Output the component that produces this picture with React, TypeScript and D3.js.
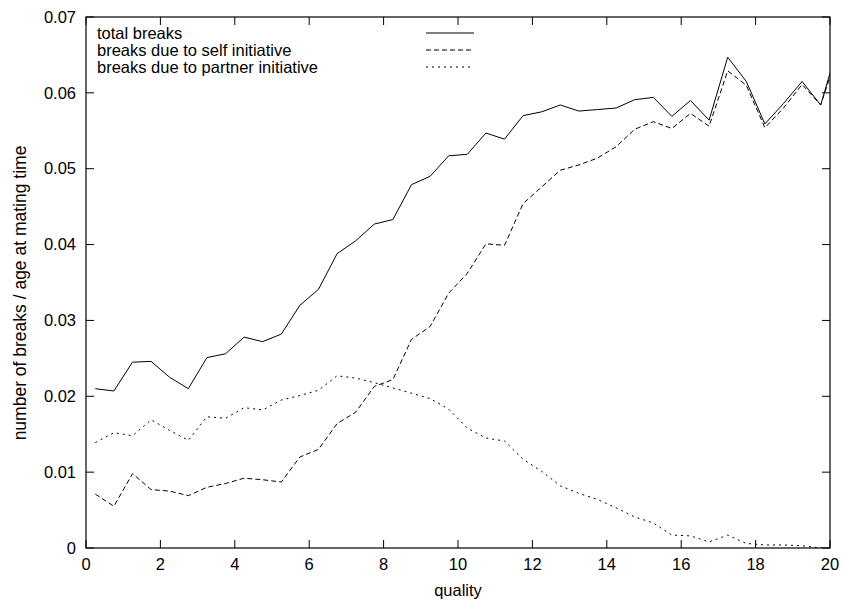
import React from "react";
import * as d3 from "d3";

const quality = [
  0.25, 0.75, 1.25, 1.75, 2.25, 2.75, 3.25, 3.75, 4.25, 4.75, 5.25, 5.75, 6.25, 6.75,
  7.25, 7.75, 8.25, 8.75, 9.25, 9.75, 10.25, 10.75, 11.25, 11.75, 12.25, 12.75, 13.25,
  13.75, 14.25, 14.75, 15.25, 15.75, 16.25, 16.75, 17.25, 17.75, 18.25, 18.75, 19.25, 19.75,
  20.25,
];

const totalBreaks = [
  0.021, 0.0207, 0.0245, 0.0246, 0.0225, 0.021, 0.0251, 0.0256, 0.0278, 0.0272, 0.0282, 0.032, 0.0341, 0.0388,
  0.0405, 0.0427, 0.0433, 0.0479, 0.049, 0.0517, 0.0519, 0.0547, 0.0539, 0.057, 0.0575, 0.0584, 0.0576,
  0.0578, 0.058, 0.0591, 0.0594, 0.0569, 0.059, 0.0564, 0.0647, 0.0615, 0.0559, 0.0586, 0.0615, 0.0584,
  0.0668,
];

const selfBreaks = [
  0.0071, 0.0055, 0.0098, 0.0077, 0.0075, 0.0069, 0.008, 0.0085, 0.0092, 0.009, 0.0087, 0.012, 0.013, 0.0164,
  0.0179, 0.0213, 0.0222, 0.0275, 0.0292, 0.0336, 0.0362, 0.0401, 0.0399, 0.0454, 0.0476, 0.0498, 0.0505,
  0.0514, 0.0529, 0.0552, 0.0562, 0.0553, 0.0573, 0.0556, 0.0629, 0.061, 0.0554, 0.058, 0.0611, 0.0584,
  0.0658,
];

const partnerBreaks = [
  0.0139, 0.0152, 0.0148, 0.0169, 0.0155, 0.0142, 0.0173, 0.0171, 0.0185, 0.0182, 0.0195, 0.0201, 0.0208, 0.0227,
  0.0224, 0.0218, 0.0211, 0.0204, 0.0197, 0.0183, 0.0158, 0.0145, 0.0141, 0.0117, 0.0101, 0.0082, 0.0072,
  0.0064, 0.0053, 0.0041, 0.0033, 0.0017, 0.0016, 0.0008, 0.0017, 0.0006, 0.0004, 0.0004, 0.0003, 0.0,
  0.0,
];

const xTicks = [0, 2, 4, 6, 8, 10, 12, 14, 16, 18, 20];
const yTicks = [0, 0.01, 0.02, 0.03, 0.04, 0.05, 0.06, 0.07];
const yTickLabels = ["0", "0.01", "0.02", "0.03", "0.04", "0.05", "0.06", "0.07"];

const seriesNames = ["total breaks", "breaks due to self initiative", "breaks due to partner initiative"];
const seriesValues = [totalBreaks, selfBreaks, partnerBreaks];
const seriesDash = [null, "5,3", "2,4"];

const W = 843;
const H = 601;
const L = 86;
const R = 830;
const T = 17;
const B = 548;
const TICK = 8;
const FONT = "'Liberation Sans', Arial, Helvetica, sans-serif";
const FS = 16.5;

export default function App() {
  const x = d3.scaleLinear().domain([0, 20]).range([L, R]);
  const y = d3.scaleLinear().domain([0, 0.07]).range([B, T]);

  const line = (vals: number[]) =>
    d3
      .line<number>()
      .x((_, i) => x(quality[i]))
      .y((v) => y(v))(vals) as string;

  const legendY = [33, 50, 67];

  return (
    <svg
      width={W}
      height={H}
      style={{ position: "absolute", left: 0, top: 0, background: "#fff" }}
      fontFamily={FONT}
      fontSize={FS}
    >
      <defs>
        <clipPath id="plotclip">
          <rect x={L} y={T} width={R - L} height={B - T} />
        </clipPath>
      </defs>
      <rect x={0} y={0} width={W} height={H} fill="#fff" />

      {/* ticks */}
      {xTicks.map((t) => (
        <g key={"xt" + t}>
          <line x1={x(t)} x2={x(t)} y1={B} y2={B - TICK} stroke="#000" strokeWidth={1} />
          <line x1={x(t)} x2={x(t)} y1={T} y2={T + TICK} stroke="#000" strokeWidth={1} />
          <text x={x(t)} y={564} textAnchor="middle" dy="0.35em">
            {t}
          </text>
        </g>
      ))}
      {yTicks.map((t, i) => (
        <g key={"yt" + t}>
          <line x1={L} x2={L + TICK} y1={y(t)} y2={y(t)} stroke="#000" strokeWidth={1} />
          <line x1={R} x2={R - TICK} y1={y(t)} y2={y(t)} stroke="#000" strokeWidth={1} />
          <text x={76} y={y(t)} textAnchor="end" dy="0.35em">
            {yTickLabels[i]}
          </text>
        </g>
      ))}

      {/* series */}
      <g clipPath="url(#plotclip)">
        {seriesValues.map((vals, i) => (
          <path
            key={"s" + i}
            d={line(vals)}
            fill="none"
            stroke="#000"
            strokeWidth={1}
            strokeDasharray={seriesDash[i] ?? undefined}
          />
        ))}
      </g>

      {/* border */}
      <rect x={L} y={T} width={R - L} height={B - T} fill="none" stroke="#000" strokeWidth={1.2} />

      {/* legend */}
      {seriesNames.map((n, i) => (
        <g key={"lg" + i}>
          <text x={97} y={legendY[i]} dy="0.35em">
            {n}
          </text>
          <line
            x1={426}
            x2={474}
            y1={legendY[i]}
            y2={legendY[i]}
            stroke="#000"
            strokeWidth={1}
            strokeDasharray={seriesDash[i] ?? undefined}
          />
        </g>
      ))}

      {/* axis titles */}
      <text x={(L + R) / 2} y={590} textAnchor="middle" dy="0.35em">
        quality
      </text>
      <text
        transform={`translate(20, 293) rotate(-90)`}
        textAnchor="middle"
        dy="0.35em"
        fontSize={17.5}
      >
        number of breaks / age at mating time
      </text>
    </svg>
  );
}
